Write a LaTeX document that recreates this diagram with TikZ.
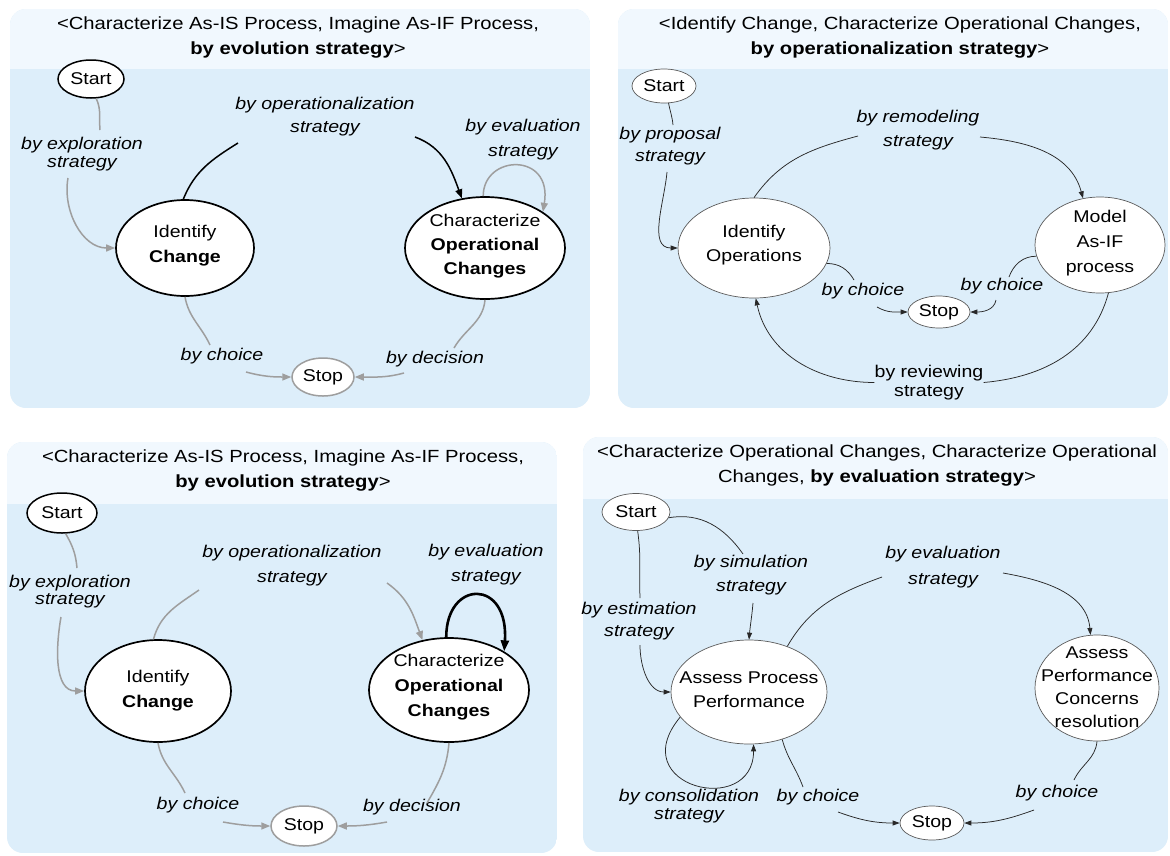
\documentclass[tikz,border=0pt]{standalone}
\usepackage{fontspec}
\setmainfont{Liberation Sans}[FakeStretch=1.15]
\usetikzlibrary{arrows.meta,shapes.geometric}
\definecolor{panelbody}{RGB}{221,238,250}
\definecolor{panelhead}{RGB}{241,248,254}
\definecolor{grayline}{RGB}{158,158,158}
\definecolor{thinline}{RGB}{40,40,40}
\definecolor{thinborder}{RGB}{90,90,90}
\tikzset{
  txt/.style={font=\fontsize{17}{#1}\selectfont, align=center, inner sep=0pt},
  txt/.default=24,
  ttl/.style={font=\fontsize{17.6}{25}\selectfont, align=center, inner sep=0pt},
  lab/.style={font=\fontsize{17}{#1}\selectfont\itshape, align=center, inner sep=0pt},
  lab/.default=22,
  ovalK/.style={ellipse, draw=black, line width=1.7pt, fill=white, inner sep=0pt},
  stopG/.style={ellipse, draw=grayline, line width=1.5pt, fill=white, inner sep=0pt},
  ovalT/.style={ellipse, draw=thinborder, line width=0.7pt, fill=white, inner sep=0pt},
  gedge/.style={draw=grayline, line width=1.5pt},
  kedge/.style={draw=black, line width=1.5pt},
  kloop/.style={draw=black, line width=2.6pt},
  tedge/.style={draw=thinline, line width=0.75pt},
  gtip/.style={-{Triangle[length=9pt,width=7pt]}},
  ktip/.style={-{Triangle[length=11pt,width=8pt]}},
  ttip/.style={-{Triangle[length=7pt,width=5pt]}},
}
\newcommand{\panelbg}[5]{%
  \begin{scope}
    \clip[rounded corners=16] (#1,#2) rectangle (#3,#4);
    \fill[panelbody] (#1,#2) rectangle (#3,#4);
    \fill[panelhead] (#1,#2) rectangle (#3,#5);
  \end{scope}}
\begin{document}
\begin{tikzpicture}[x=1pt,y=-1pt]
\useasboundingbox (0,0) rectangle (1170,855);
\fill[white] (0,0) rectangle (1170,855);

% ---------------- Panel 1 ----------------
\panelbg{10}{9}{590}{408}{69}
\node[ttl] (t1) at (298,37.5) {<Characterize As-IS Process, Imagine As-IF Process,\\\textbf{by evolution strategy}>};
\node[ovalK, line width=1.5pt, minimum width=66, minimum height=38] (s1) at (91,79) {};
\node[txt] (s1t) at (91,79) {Start};
\node[lab=18] (l1a) at (82,154) {by exploration\\strategy};
\node[ovalK, minimum width=138, minimum height=96] (i1) at (185,248) {};
\node[txt=25] (i1t) at (185,245.5) {Identify\\\textbf{Change}};
\node[lab=23] (l1b) at (325,116.5) {by operationalization\\strategy};
\node[ovalK, minimum width=160, minimum height=102] (c1) at (485,248) {};
\node[txt=24] (c1t) at (485,246) {Characterize\\\textbf{Operational}\\\textbf{Changes}};
\node[lab=25] (l1c) at (523,139.5) {by evaluation\\strategy};
\node[stopG, minimum width=62, minimum height=38] (stop1) at (323,377) {};
\node[txt] (stop1t) at (323,377) {Stop};
\node[lab] (ch1) at (222,356) {by choice};
\node[lab] (de1) at (435,359) {by decision};
\coordinate (e1a) at (100,130);
\coordinate (e1b) at (68,178);
\coordinate (e1c) at (238,143);
\coordinate (e1d) at (415,137);
\coordinate (e1e) at (210,345);
\coordinate (e1f) at (246,372);
\coordinate (e1g) at (454,348);
\coordinate (e1h) at (404,373);
\draw[gedge] (s1.-75) to[out=-65,in=95] (e1a);
\draw[gedge,gtip] (e1b) to[out=-100,in=180] (i1.west);
\draw[kedge] (i1.92) to[out=68,in=-148] (e1c);
\draw[kedge,gtip] (e1d) to[out=-20,in=110] (c1.115);
\draw[gedge,gtip] (c1.92) .. controls +(0,-42) and +(10,-60) .. (c1.32);
\draw[gedge] (i1.south) to[out=-80,in=115] (e1e);
\draw[gedge,gtip] (e1f) to[out=-15,in=180] (stop1.west);
\draw[gedge] (c1.south) to[out=-95,in=60] (e1g);
\draw[gedge,gtip] (e1h) to[out=-165,in=0] (stop1.east);

% ---------------- Panel 2 ----------------
\panelbg{618}{9}{1168}{408}{69}
\node[ttl] (t2) at (900,37.5) {<Identify Change, Characterize Operational Changes,\\\textbf{by operationalization strategy}>};
\node[ovalT, minimum width=64, minimum height=34] (s2) at (664,86) {};
\node[txt] (s2t) at (664,86) {Start};
\node[lab=22] (l2a) at (670,146) {by proposal\\strategy};
\node[ovalT, minimum width=152, minimum height=100] (io2) at (754,248) {};
\node[txt=24] (io2t) at (754,245) {Identify\\Operations};
\node[lab=24] (l2b) at (918,130) {by remodeling\\strategy};
\node[ovalT, minimum width=130, minimum height=96] (mo2) at (1100,245) {};
\node[txt=25] (mo2t) at (1100,243) {Model\\As-IF\\process};
\node[ovalT, minimum width=62, minimum height=32] (stop2) at (939,312) {};
\node[txt] (stop2t) at (939,312) {Stop};
\node[lab] (ch2a) at (863,291) {by choice};
\node[lab] (ch2b) at (1002,286) {by choice};
\node[txt=19] (l2c) at (929,382.5) {by reviewing\\strategy};
\coordinate (e2a) at (673,125);
\coordinate (e2b) at (667,172);
\coordinate (e2c) at (858,136);
\coordinate (e2d) at (980,137);
\coordinate (e2e) at (854,280);
\coordinate (e2f) at (877,307);
\coordinate (e2g) at (1009,277);
\coordinate (e2h) at (996,300);
\draw[tedge] (s2.-75) to[out=-80,in=95] (e2a);
\draw[tedge,ttip] (e2b) to[out=-95,in=180] (io2.west);
\draw[tedge] (io2.north) to[out=55,in=-165] (e2c);
\draw[tedge,ttip] (e2d) to[out=-5,in=105] (mo2.110);
\draw[tedge] (io2.-12) to[out=0,in=120] (e2e);
\draw[tedge,ttip] (e2f) to[out=-30,in=180] (stop2.west);
\draw[tedge] (mo2.190) to[out=180,in=70] (e2g);
\draw[tedge,ttip] (e2h) to[out=-100,in=0] (stop2.east);
\draw[tedge] (mo2.-80) to[out=-105,in=5] (l2c.east);
\draw[tedge,ttip] (l2c.west) to[out=180,in=-78] (io2.-88);

% ---------------- Panel 3 ----------------
\panelbg{7}{442}{557}{853}{504}
\node[ttl] (t3) at (283,470.5) {<Characterize As-IS Process, Imagine As-IF Process,\\\textbf{by evolution strategy}>};
\node[ovalK, line width=1.5pt, minimum width=70, minimum height=40] (s3) at (62,513) {};
\node[txt] (s3t) at (62,513) {Start};
\node[lab=17] (l3a) at (70,591.5) {by exploration\\strategy};
\node[ovalK, minimum width=146, minimum height=102] (i3) at (158,691) {};
\node[txt=25] (i3t) at (158,690.5) {Identify\\\textbf{Change}};
\node[lab=25] (l3b) at (292,565.5) {by operationalization\\strategy};
\node[ovalK, minimum width=160, minimum height=104] (c3) at (449,690) {};
\node[txt=25] (c3t) at (449,687.5) {Characterize\\\textbf{Operational}\\\textbf{Changes}};
\node[lab=25] (l3c) at (486,564.5) {by evaluation\\strategy};
\node[stopG, minimum width=66, minimum height=40] (stop3) at (304,826) {};
\node[txt] (stop3t) at (304,826) {Stop};
\node[lab] (ch3) at (198,805) {by choice};
\node[lab] (de3) at (412,807) {by decision};
\coordinate (e3a) at (77,568);
\coordinate (e3b) at (61,617);
\coordinate (e3c) at (199,590);
\coordinate (e3d) at (387,583);
\coordinate (e3e) at (185,793);
\coordinate (e3f) at (223,822);
\coordinate (e3g) at (427,803);
\coordinate (e3h) at (387,822);
\draw[gedge] (s3.-80) to[out=-60,in=95] (e3a);
\draw[gedge,gtip] (e3b) to[out=-100,in=180] (i3.west);
\draw[gedge] (i3.95) to[out=75,in=-145] (e3c);
\draw[gedge,gtip] (e3d) to[out=-35,in=110] (c3.118);
\draw[kloop,ktip] (c3.93) .. controls +(0,-58) and +(5,-73) .. (c3.35);
\draw[gedge] (i3.south) to[out=-80,in=115] (e3e);
\draw[gedge,gtip] (e3f) to[out=-10,in=180] (stop3.west);
\draw[gedge] (c3.south) to[out=-95,in=60] (e3g);
\draw[gedge,gtip] (e3h) to[out=-170,in=0] (stop3.east);

% ---------------- Panel 4 ----------------
\panelbg{583}{437}{1168}{852}{499}
\node[ttl] (t4) at (877,465.5) {<Characterize Operational Changes, Characterize Operational\\Changes, \textbf{by evaluation strategy}>};
\node[ovalT, minimum width=68, minimum height=37] (s4) at (636,512) {};
\node[txt] (s4t) at (636,512) {Start};
\node[lab=24] (l4a) at (751,575) {by simulation\\strategy};
\node[lab=22] (l4b) at (639,621) {by estimation\\strategy};
\node[ovalT, minimum width=156, minimum height=104] (ap4) at (749,692) {};
\node[txt=24] (ap4t) at (749,690) {Assess Process\\Performance};
\node[lab=26] (l4c) at (943,567) {by evaluation\\strategy};
\node[ovalT, minimum width=124, minimum height=106] (pc4) at (1097,688) {};
\node[txt=23] (pc4t) at (1097,687.5) {Assess\\Performance\\Concerns\\resolution};
\node[ovalT, minimum width=64, minimum height=34] (stop4) at (932,823) {};
\node[txt] (stop4t) at (932,823) {Stop};
\node[lab=18] (l4d) at (689,806) {by consolidation\\strategy};
\node[lab] (ch4a) at (818,797) {by choice};
\node[lab] (ch4b) at (1057,793) {by choice};
\coordinate (e4a) at (743,554);
\coordinate (e4b) at (753,603);
\coordinate (e4c) at (640,598);
\coordinate (e4d) at (640,645);
\coordinate (e4e) at (882,577);
\coordinate (e4f) at (1003,573);
\coordinate (e4g) at (803,787);
\coordinate (e4h) at (838,812);
\coordinate (e4i) at (1074,780);
\coordinate (e4j) at (1034,810);
\draw[tedge] (s4.-85) to[out=-82,in=92] (e4c);
\draw[tedge,ttip] (e4d) to[out=-90,in=180] (ap4.west);
\draw[tedge] (s4.-10) to[out=10,in=125] (e4a);
\draw[tedge,ttip] (e4b) to[out=-95,in=85] (ap4.north);
\draw[tedge] (ap4.50) to[out=60,in=-160] (e4e);
\draw[tedge,ttip] (e4f) to[out=-10,in=95] (pc4.97);
\draw[tedge,ttip] (ap4.200) .. controls +(-58,70) and +(0,74) .. (ap4.-85);
\draw[tedge] (ap4.-55) to[out=-75,in=110] (e4g);
\draw[tedge,ttip] (e4h) to[out=-20,in=180] (stop4.west);
\draw[tedge] (pc4.south) to[out=-95,in=65] (e4i);
\draw[tedge,ttip] (e4j) to[out=-160,in=0] (stop4.east);
\end{tikzpicture}
\end{document}
